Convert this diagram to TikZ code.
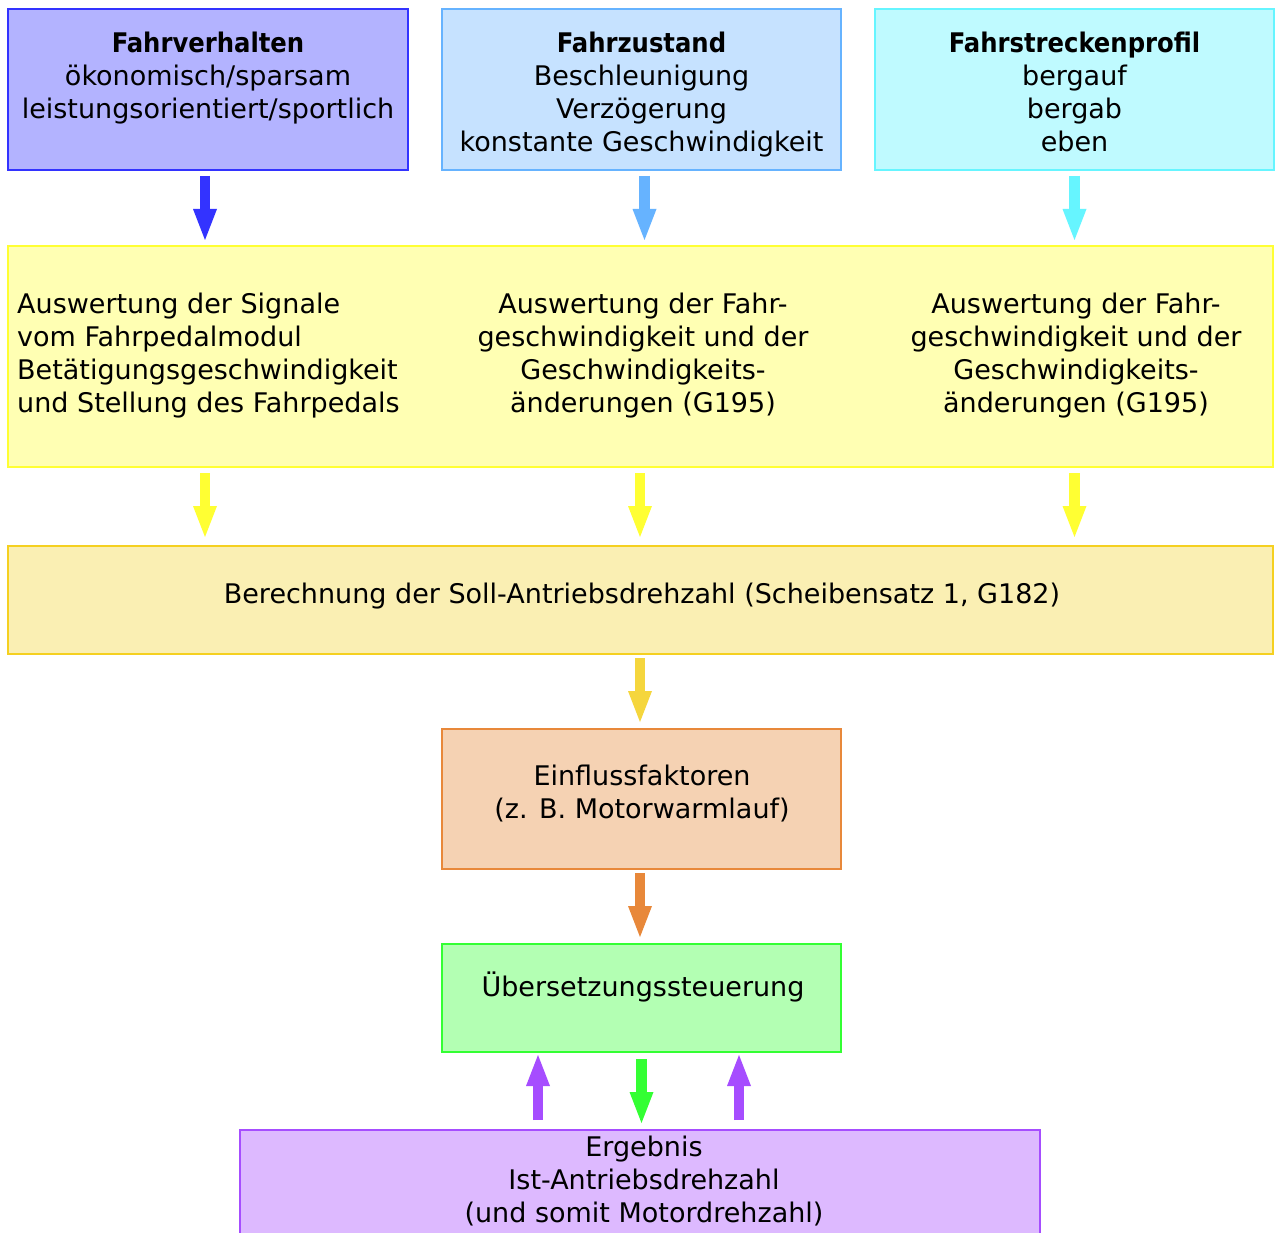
\documentclass[tikz,border=0pt]{standalone}
\usepackage{fontspec}
\setmainfont{DejaVu Sans}[BoldFont={DejaVu Sans Condensed Bold}]
\usetikzlibrary{arrows.meta,calc}
\definecolor{cAfill}{HTML}{B3B3FF}
\definecolor{cAline}{HTML}{3333FF}
\definecolor{cBfill}{HTML}{C6E2FF}
\definecolor{cBline}{HTML}{66B3FF}
\definecolor{cCfill}{HTML}{BFFAFF}
\definecolor{cCline}{HTML}{66F5FF}
\definecolor{cYfill}{HTML}{FFFFB3}
\definecolor{cYline}{HTML}{FFFF33}
\definecolor{cBefill}{HTML}{FAEFB3}
\definecolor{cBeline}{HTML}{F5D020}
\definecolor{cBearrow}{HTML}{F5D63D}
\definecolor{cEifill}{HTML}{F5D2B3}
\definecolor{cEiline}{HTML}{E8883A}
\definecolor{cUefill}{HTML}{B3FFB3}
\definecolor{cUeline}{HTML}{33FF33}
\definecolor{cErfill}{HTML}{DDB9FF}
\definecolor{cErline}{HTML}{A64DFF}
\newcommand\lstrut{\rule[-8pt]{0pt}{33pt}}
\begin{document}
\begin{tikzpicture}[x=1pt,y=-1pt,
  box/.style={draw, line width=1.5pt, inner sep=0pt, outer sep=0pt, anchor=north west},
  txt/.style={font=\fontsize{27}{33}\selectfont, inner sep=0pt, align=center},
  fatarrow/.style={line width=10.5pt, -{Triangle[width=24pt,length=31pt,line width=0pt]}}]
\clip (0,0) rectangle (1276,1233);
\fill[white] (0,0) rectangle (1276,1233);
% boxes
\node[box, fill=cAfill, draw=cAline, minimum width=400pt, minimum height=161pt] (b1) at (8,9) {};
\node[box, fill=cBfill, draw=cBline, minimum width=399pt, minimum height=161pt] (b2) at (442,9) {};
\node[box, fill=cCfill, draw=cCline, minimum width=399pt, minimum height=161pt] (b3) at (875,9) {};
\node[box, fill=cYfill, draw=cYline, minimum width=1265pt, minimum height=221pt] (y) at (8,246) {};
\node[box, fill=cBefill, draw=cBeline, minimum width=1265pt, minimum height=108pt] (be) at (8,546) {};
\node[box, fill=cEifill, draw=cEiline, minimum width=399pt, minimum height=140pt] (ei) at (442,729) {};
\node[box, fill=cUefill, draw=cUeline, minimum width=399pt, minimum height=108pt] (ue) at (442,944) {};
\node[box, fill=cErfill, draw=cErline, minimum width=800pt, minimum height=160pt] (er) at (240,1130) {};
% texts
\node[txt] (t1) at (208,77.5) {\lstrut\textbf{Fahrverhalten}\\\lstrut ökonomisch/sparsam\\\lstrut leistungsorientiert/sportlich};
\node[txt] (t2) at (641.5,94) {\lstrut\textbf{Fahrzustand}\\\lstrut Beschleunigung\\\lstrut Verzögerung\\\lstrut konstante Geschwindigkeit};
\node[txt] (t3) at (1074.5,94) {\lstrut\textbf{Fahrstreckenprofil}\\\lstrut bergauf\\\lstrut bergab\\\lstrut eben};
\node[txt, align=left, anchor=west] (ty1) at (17,354) {\lstrut Auswertung der Signale\\\lstrut vom Fahrpedalmodul\\\lstrut Betätigungsgeschwindigkeit\\\lstrut und Stellung des Fahrpedals};
\node[txt] (ty2) at (643,354) {\lstrut Auswertung der Fahr-\\\lstrut geschwindigkeit und der\\\lstrut Geschwindigkeits-\\\lstrut änderungen (G195)};
\node[txt] (ty3) at (1076,354) {\lstrut Auswertung der Fahr-\\\lstrut geschwindigkeit und der\\\lstrut Geschwindigkeits-\\\lstrut änderungen (G195)};
\node[txt] (tbe) at (642,594.5) {\lstrut Berechnung der Soll-Antriebsdrehzahl (Scheibensatz 1, G182)};
\node[txt] (tei) at (642,793) {\lstrut Einflussfaktoren\\\lstrut (z. B. Motorwarmlauf)};
\node[txt] (tue) at (643,988) {\lstrut Übersetzungssteuerung};
\node[txt] (ter) at (644,1181) {\lstrut Ergebnis\\\lstrut Ist-Antriebsdrehzahl\\\lstrut (und somit Motordrehzahl)};
% arrows
\draw[fatarrow, cAline] ($(b1.south)+(-3,6)$) -- ($(b1.south |- y.north)+(-3,-6)$);
\draw[fatarrow, cBline] ($(b2.south)+(3,6)$) -- ($(b2.south |- y.north)+(3,-6)$);
\draw[fatarrow, cCline] ($(b3.south)+(0,6)$) -- ($(b3.south |- y.north)+(0,-6)$);
\draw[fatarrow, cYline] ($(b1.south |- y.south)+(-3,6)$) -- ($(b1.south |- be.north)+(-3,-9)$);
\draw[fatarrow, cYline] ($(b2.south |- y.south)+(-1.5,6)$) -- ($(b2.south |- be.north)+(-1.5,-9)$);
\draw[fatarrow, cYline] ($(b3.south |- y.south)+(0,6)$) -- ($(b3.south |- be.north)+(0,-9)$);
\draw[fatarrow, cBearrow] ($(ei.north |- be.south)+(-1.5,4)$) -- ($(ei.north)+(-1.5,-7)$);
\draw[fatarrow, cEiline] ($(ei.south)+(-1.5,4)$) -- ($(ue.north)+(-1.5,-7)$);
\draw[fatarrow, cUeline] ($(ue.south)+(0,7)$) -- ($(ue.south |- er.north)+(0,-7)$);
\draw[fatarrow, cErline] ($(ue.south |- er.north)+(-103.5,-10)$) -- ($(ue.south)+(-103.5,3)$);
\draw[fatarrow, cErline] ($(ue.south |- er.north)+(97.5,-10)$) -- ($(ue.south)+(97.5,3)$);
\end{tikzpicture}
\end{document}
